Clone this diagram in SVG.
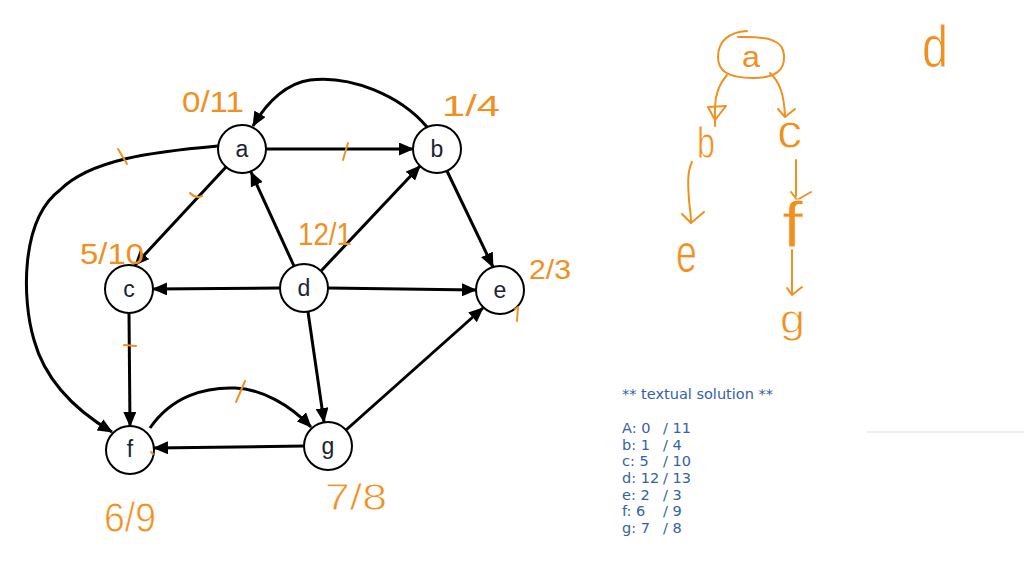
<svg xmlns="http://www.w3.org/2000/svg" width="1024" height="574" viewBox="0 0 1024 574">
<defs>
<marker id="ah" markerUnits="userSpaceOnUse" markerWidth="15" markerHeight="13" refX="14" refY="6.5" orient="auto" viewBox="0 0 15 13">
<path d="M0,0 L15,6.5 L0,13 z" fill="#000"/>
</marker>
<style>
.edge{fill:none;stroke:#000;stroke-width:3;marker-end:url(#ah)}
.node circle{fill:#fff;stroke:#000;stroke-width:2}
.node text{font-family:"Liberation Sans",Arial,sans-serif;font-size:23px;fill:#1b2233;text-anchor:middle}
.hw{font-family:"Liberation Sans",Arial,sans-serif;fill:#f0901f}
.hwb{stroke:#fff;stroke-width:0.8}
.hs{fill:none;stroke:#f0901f;stroke-width:2;stroke-linecap:round;stroke-linejoin:round}
.sol{font-family:"DejaVu Sans",Verdana,sans-serif;font-size:14.5px;fill:#3561a8;white-space:pre}
</style>
</defs>
<rect width="1024" height="574" fill="#fff"/>
<line x1="867" y1="432" x2="1024" y2="432" stroke="#eeeeee" stroke-width="2"/>

<g id="connectors">
<path class="edge" d="M266,149 L413,149"/>
<path class="edge" d="M427,127 C400,95 350,75 310,80 C288,83 268,100 253,126"/>
<path class="edge" d="M226,167 L135,265"/>
<path class="edge" d="M218,146 C150,152 90,160 60,190 C20,220 22,300 34,340 C45,380 75,410 112,432"/>
<path class="edge" d="M294,266 L251,172"/>
<path class="edge" d="M321,271 L420,166"/>
<path class="edge" d="M447,171 L493,267"/>
<path class="edge" d="M280,288 L153,289"/>
<path class="edge" d="M328,288 L476,290"/>
<path class="edge" d="M308,312 L324,422"/>
<path class="edge" d="M129,313 L130,426"/>
<path class="edge" d="M346,430 L483,308"/>
<path class="edge" d="M304,446 L154,448"/>
<path class="edge" d="M150,428 C172,396 205,387 235,388 C262,389 290,405 311,427"/>
</g>

<g id="node-a" class="node"><circle cx="242" cy="149" r="24"/><text x="242" y="157">a</text></g>
<g id="node-b" class="node"><circle cx="437" cy="149" r="24"/><text x="437" y="157">b</text></g>
<g id="node-c" class="node"><circle cx="129" cy="289" r="24"/><text x="129" y="297">c</text></g>
<g id="node-d" class="node"><circle cx="304" cy="288" r="24"/><text x="304" y="296">d</text></g>
<g id="node-e" class="node"><circle cx="500" cy="290" r="24"/><text x="500" y="298">e</text></g>
<g id="node-f" class="node"><circle cx="130" cy="450" r="24"/><text x="130" y="457">f</text></g>
<g id="node-g" class="node"><circle cx="328" cy="446" r="24"/><text x="328" y="454">g</text></g>

<g id="annotations">
<text class="hw" x="182" y="112" font-size="30" textLength="62" lengthAdjust="spacingAndGlyphs">0/11</text>
<text class="hw" x="442" y="116" font-size="30" textLength="58" lengthAdjust="spacingAndGlyphs">1/4</text>
<text class="hw" x="298" y="245" font-size="32" textLength="54" lengthAdjust="spacingAndGlyphs">12/1</text>
<text class="hw" x="80" y="264" font-size="30" textLength="64" lengthAdjust="spacingAndGlyphs">5/10</text>
<text class="hw" x="529" y="279" font-size="28" textLength="42" lengthAdjust="spacingAndGlyphs">2/3</text>
<text class="hw hwb" x="104" y="532" font-size="42" textLength="52" lengthAdjust="spacingAndGlyphs">6/9</text>
<text class="hw hwb" x="325" y="510" font-size="36" textLength="62" lengthAdjust="spacingAndGlyphs">7/8</text>
<path class="hs" d="M118,149 L127,164"/>
<path class="hs" d="M190,193 Q196,199 202,196"/>
<path class="hs" d="M348,143 L343,160"/>
<path class="hs" d="M124,345 L136,346"/>
<path class="hs" d="M245,381 L236,402"/>
<path class="hs" d="M515,309 L518,307 L517,321"/>
<path class="hs" d="M151,452 L153,454"/>
</g>

<g id="tree">
<path class="hs" d="M747,31 C728,32 718,42 718,57 C718,71 728,78 753,78 C776,78 785,70 784,55 C783,41 770,36 738,37"/>
<text class="hw" x="742" y="67" font-size="30" textLength="18" lengthAdjust="spacingAndGlyphs">a</text>
<path class="hs" d="M727,75 C718,85 715,95 715,108 L715,126"/>
<path class="hs" d="M708,107 L726,106 L715,120 Z"/>
<path class="hs" d="M770,73 C780,82 784,95 785,116"/>
<path class="hs" d="M778,109 L785,117 L795,109"/>
<text class="hw hwb" x="697" y="158" font-size="45" textLength="18" lengthAdjust="spacingAndGlyphs">b</text>
<text class="hw hwb" x="777" y="148" font-size="48" textLength="25" lengthAdjust="spacingAndGlyphs">c</text>
<path class="hs" d="M692,162 C687,172 688,185 689,200 C690,210 691,216 691,222"/>
<path class="hs" d="M682,214 L691,223 L704,212"/>
<text class="hw hwb" x="676" y="272" font-size="56" textLength="21" lengthAdjust="spacingAndGlyphs">e</text>
<path class="hs" d="M796,160 L796,196"/>
<path class="hs" d="M791,192 L797,200 L811,192"/>
<text class="hw hwb" x="782" y="247" font-size="64" textLength="21" lengthAdjust="spacingAndGlyphs">f</text>
<path class="hs" d="M792,250 L792,293"/>
<path class="hs" d="M787,288 L792,295 L802,287"/>
<text class="hw hwb" x="780" y="333" font-size="40" textLength="25" lengthAdjust="spacingAndGlyphs">g</text>
<text class="hw hwb" x="922" y="67" font-size="60" textLength="26" lengthAdjust="spacingAndGlyphs">d</text>
</g>

<g id="solution" class="sol">
<text x="622" y="399">** textual solution **</text>
<text y="433"><tspan x="622">A: 0</tspan><tspan x="663">/ 11</tspan></text>
<text y="450"><tspan x="622">b: 1</tspan><tspan x="663">/ 4</tspan></text>
<text y="466"><tspan x="622">c: 5</tspan><tspan x="663">/ 10</tspan></text>
<text y="483"><tspan x="622">d: 12</tspan><tspan x="663">/ 13</tspan></text>
<text y="500"><tspan x="622">e: 2</tspan><tspan x="663">/ 3</tspan></text>
<text y="516"><tspan x="622">f:  6</tspan><tspan x="663">/ 9</tspan></text>
<text y="533"><tspan x="622">g: 7</tspan><tspan x="663">/ 8</tspan></text>
</g>
</svg>
